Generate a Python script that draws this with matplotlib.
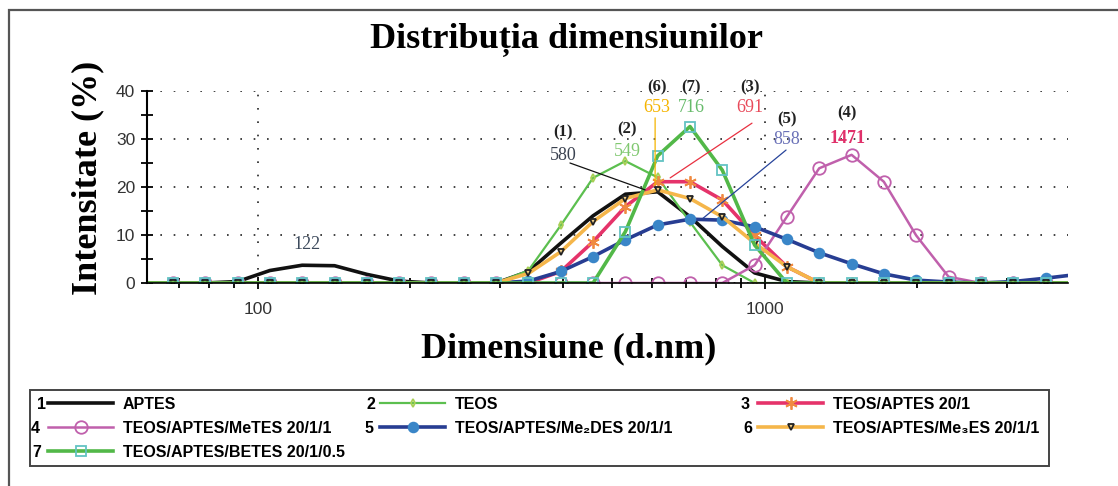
import matplotlib
matplotlib.use('Agg')
import matplotlib.pyplot as plt
from matplotlib.patches import Rectangle

# Zetasizer size classes (d.nm)
sizes = [58.77, 68.06, 78.82, 91.28, 105.7, 122.4, 141.8, 164.2, 190.1, 220.2,
         255.0, 295.3, 342.0, 396.1, 458.7, 531.2, 615.1, 712.4, 825.0, 955.4,
         1106, 1281, 1484, 1718, 1990, 2305, 2669, 3091, 3580, 4145]

aptes = [0, 0, 0, 0.3, 2.6, 3.7, 3.6, 1.8, 0.4, 0, 0, 0, 2.4, 8.3, 14.0,
         18.5, 19.0, 13.8, 7.6, 2.1, 0.3, 0, 0, 0, 0, 0, 0, 0, 0, 0]
teos = [0, 0, 0, 0, 0, 0, 0, 0, 0, 0, 0, 0, 2.6, 12.0, 21.9,
        25.4, 22.0, 12.7, 3.7, 0, 0, 0, 0, 0, 0, 0, 0, 0, 0, 0]
teos_aptes = [0, 0, 0, 0, 0, 0, 0, 0, 0, 0, 0, 0, 0, 2.4, 8.6,
              15.9, 21.1, 21.1, 17.3, 9.9, 3.4, 0, 0, 0, 0, 0, 0, 0, 0, 0]
metes = [0, 0, 0, 0, 0, 0, 0, 0, 0, 0, 0, 0, 0, 0, 0,
         0, 0, 0, 0, 3.7, 13.8, 23.9, 26.7, 21.1, 9.9, 1.3, 0, 0, 0, 0]
me2des = [0, 0, 0, 0, 0, 0, 0, 0, 0, 0, 0, 0, 0.4, 2.4, 5.5,
          9.0, 12.1, 13.3, 13.1, 11.7, 9.1, 6.3, 4.0, 1.9, 0.6, 0.2, 0, 0.3, 1.0, 1.8]
me3es = [0, 0, 0, 0, 0, 0, 0, 0, 0, 0, 0, 0, 2.0, 6.5, 12.8,
         17.6, 19.4, 17.6, 13.8, 8.3, 3.4, 0, 0, 0, 0, 0, 0, 0, 0, 0]
betes = [0, 0, 0, 0, 0, 0, 0, 0, 0, 0, 0, 0, 0, 0, 0,
         10.7, 26.5, 32.6, 23.5, 7.9, 0, 0, 0, 0, 0, 0, 0, 0, 0, 0]

labels = ['APTES', 'TEOS', 'TEOS/APTES 20/1', 'TEOS/APTES/MeTES 20/1/1',
          'TEOS/APTES/Me\u2082DES 20/1/1', 'TEOS/APTES/Me\u2083ES 20/1/1',
          'TEOS/APTES/BETES 20/1/0.5']
series = [aptes, teos, teos_aptes, metes, me2des, me3es, betes]

# (line colour, line width, marker, marker size, marker face, marker edge)
styles = [
    ('#111111', 2.6, None, 0, 'none', 'none'),
    ('#5cbf4f', 1.6, 'd', 4, 'none', '#a8cf55'),
    ('#e5336a', 2.6, (6, 2, 0), 9, '#f08a40', '#f08a40'),
    ('#c060ac', 1.8, 'o', 9, 'none', '#c060ac'),
    ('#273d92', 2.6, 'o', 7, '#3a86c8', '#3a86c8'),
    ('#f5b64a', 2.6, 'v', 5, '#f5d28a', '#222222'),
    ('#52b848', 2.6, 's', 7, 'none', '#62c3c3'),
]

# peak annotations: (x, y) of the "(n)" tag, value text, colour, leader line
tags = ['(1)', '(2)', '(6)', '(7)', '(3)', '(5)', '(4)']
tag_x = [400, 536, 613, 716, 935, 1107, 1454]
tag_y = [31.3, 32.1, 40.8, 40.8, 40.8, 34.0, 35.4]
peak_txt = ['580', '549', '653', '716', '691', '858', '1471']
peak_y = [26.5, 27.3, 36.5, 36.5, 36.5, 29.8, 30.0]
peak_col = ['#3a4250', '#80c870', '#f5b400', '#66bb6a', '#e84a5a', '#6b72b8', '#e0306a']
leaders = [((413, 25.0), (581, 19.4), '#111111'),
           ((608, 34.4), (608, 20.4), '#f5b400'),
           ((944, 33.3), (651, 21.9), '#e83040'),
           ((1102, 27.7), (756, 13.5), '#27439a')]

W, H = 1118, 486
fig = plt.figure(figsize=(W / 100, H / 100), dpi=100)
ax = fig.add_axes([147 / W, 1 - 283 / H, (1068 - 147) / W, (283 - 91) / H])

lines = []
for vals, lab, st in zip(series, labels, styles):
    col, lw, mk, ms, mfc, mec = st
    l, = ax.plot(sizes, vals, color=col, lw=lw, marker=mk, ms=ms, mfc=mfc,
                 mec=mec, mew=1.3, label=lab)
    lines.append(l)

ax.set_xscale('log')
ax.set_xlim(60.5, 3965)
ax.set_ylim(0, 40)
ax.set_yticks([0, 10, 20, 30, 40])
ax.set_yticks([5, 15, 25, 35], minor=True)
ax.set_xticks([100, 1000])
ax.set_xticklabels(['100', '1000'])
ax.grid(True, which='major', color='#222222', linestyle=(0, (1, 7)), lw=1.2)
for s in ['top', 'right']:
    ax.spines[s].set_visible(False)
ax.spines['left'].set_linewidth(1.5)
ax.spines['bottom'].set_linewidth(1.2)
ax.tick_params(axis='both', which='both', direction='inout', labelsize=12.5,
               labelcolor='#333333', width=1.3)
ax.tick_params(axis='y', which='major', length=9, pad=4)
ax.tick_params(axis='y', which='minor', length=9)
ax.tick_params(axis='x', which='major', length=8, pad=10)
ax.tick_params(axis='x', which='minor', length=7)
for t in ax.get_xticklabels() + ax.get_yticklabels():
    t.set_family('Liberation Sans')

ax.text(125, 8.1, '122', ha='center', va='center', fontsize=13,
        family='Liberation Serif', color='#3d4a5c')
for tg, tx, ty, pt, py, pc in zip(tags, tag_x, tag_y, peak_txt, peak_y, peak_col):
    ax.text(tx, ty, tg, ha='center', va='center', fontsize=12, weight='bold',
            family='Liberation Serif', color='#222222', clip_on=False)
    ax.text(tx, py, pt, ha='center', va='center', fontsize=13,
            weight='bold' if pt == '1471' else 'normal',
            family='Liberation Serif', color=pc, clip_on=False)
for p0, p1, c in leaders:
    ax.annotate('', xy=p1, xytext=p0,
                arrowprops=dict(arrowstyle='-', color=c, lw=0.9, shrinkA=0, shrinkB=0))

fig.text(567 / W, 1 - 47 / H, 'Distribuția dimensiunilor', ha='center',
         va='baseline', fontsize=26, weight='bold', family='Liberation Serif')
fig.text(569 / W, 1 - 357 / H, 'Dimensiune (d.nm)', ha='center',
         va='baseline', fontsize=26, weight='bold', family='Liberation Serif')
fig.text(88 / W, 1 - 178 / H, 'Intensitate (%)', ha='center', va='center',
         rotation=90, fontsize=26, weight='bold', family='Liberation Serif')

# outer frame and legend frame
fig.patches.append(Rectangle((9 / W, -0.1), 1.2, 1.1 - 10 / H, fill=False,
                             ec='#555555', lw=1.6, transform=fig.transFigure))
fig.patches.append(Rectangle((30 / W, 1 - 466 / H), (1049 - 30) / W, 76 / H,
                             fill=False, ec='#444444', lw=1.4,
                             transform=fig.transFigure))

groups = [([0, 3, 6], 48), ([1, 4], 380), ([2, 5], 758)]
legs = []
for idx, x0 in groups:
    leg = fig.legend([lines[i] for i in idx], [labels[i] for i in idx],
                     loc='upper left', bbox_to_anchor=(x0 / W, 1 - 397 / H),
                     frameon=False, borderpad=0, borderaxespad=0,
                     handlelength=4.1, handletextpad=0.6, labelspacing=0.55,
                     prop={'family': 'Liberation Sans', 'weight': 'bold', 'size': 11.5})
    legs.append((leg, idx))

fig.canvas.draw()
r = fig.canvas.get_renderer()
for leg, idx in legs:
    for h, i in zip(leg.legend_handles, idx):
        bb = h.get_window_extent(r)
        fig.text(bb.x0 - 2, (bb.y0 + bb.y1) / 2, str(i + 1), ha='right',
                 va='center_baseline', transform=None, fontsize=11.5,
                 weight='bold', family='Liberation Sans')

fig.savefig('out.png', dpi=100)
